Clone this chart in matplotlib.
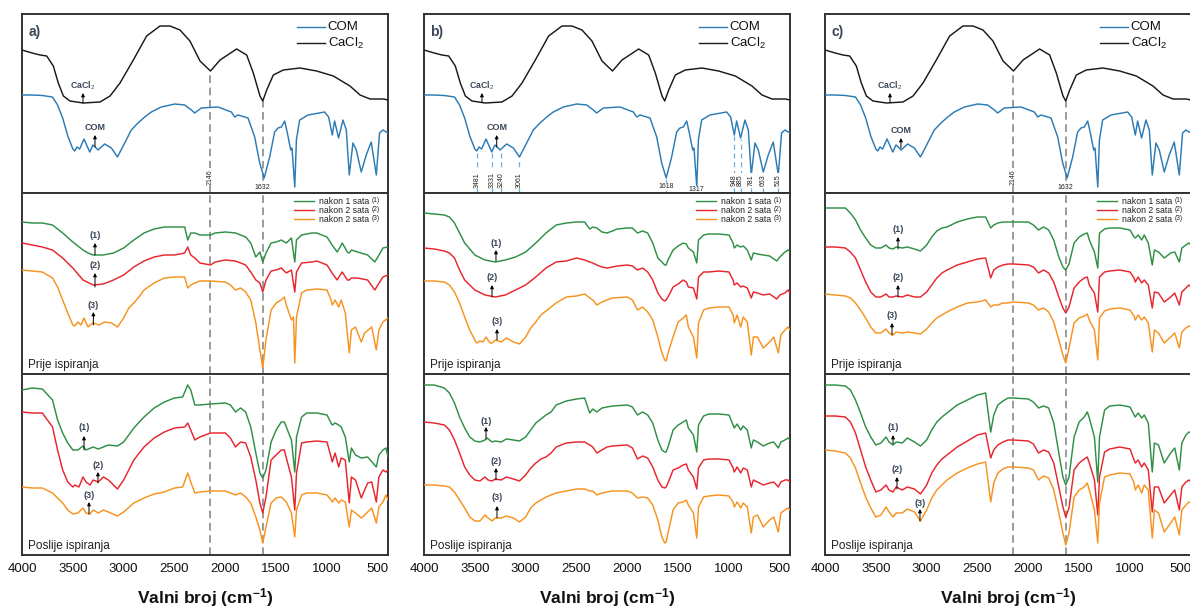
import numpy as np
import matplotlib
matplotlib.use('Agg')
import matplotlib.pyplot as plt

plt.rcParams['font.family'] = ['Liberation Sans', 'DejaVu Sans']
plt.rcParams['mathtext.fontset'] = 'custom'
plt.rcParams['mathtext.rm'] = 'Liberation Sans'
plt.rcParams['mathtext.bf'] = 'Liberation Sans:bold'
plt.rcParams['mathtext.it'] = 'Liberation Sans:italic'

# ---------------- data (wavenumber cm-1, relative transmittance) ----------------
XTICKS = [4000, 3500, 3000, 2500, 2000, 1500, 1000, 500]
PANEL_LETTERS = ['a)', 'b)', 'c)']
LEGEND_TOP = ['COM', 'CaCl$_2$']
LEGEND_MID = ['nakon 1 sata', 'nakon 2 sata', 'nakon 2 sata']
LEGEND_MID_TAG = ['(1)', '(2)', '(3)']
MARK_AC = [2146, 1632]
MARK_B = [3481, 3331, 3240, 3061, 1618, 1317, 948, 885, 781, 663, 515]

com = [(4000,98),(3900,98),(3800,97.5),(3700,96),(3650,88),(3600,75),(3550,57),(3500,44),(3481,42),
       (3459,46),(3433,44),(3390,54),(3334,41),(3302,48),(3280,46),(3252,43),(3187,49),(3121,45),
       (3061,36),(2990,50),(2925,63),(2859,70),(2793,76),(2728,81),(2630,86),(2498,89),(2400,88),
       (2334,83),(2302,80),(2236,85),(2072,86),(1941,81),(1908,76),(1875,78),(1777,75),(1711,56),
       (1662,30),(1618,15),(1564,36),(1515,61),(1482,65),(1449,66),(1416,72),(1390,60),(1357,43),
       (1344,45),(1317,6),(1301,53),(1269,73),(1187,78),(1023,81),(984,76),(948,58),(925,72),
       (886,55),(843,73),(810,63),(781,18),(745,50),(712,43),(663,21),(614,38),(565,51),(515,18),
       (483,60),(450,63),(400,60)]

cacl2 = [(4000,143),(3900,140),(3823,138),(3757,137),(3692,127),(3643,110),(3593,97),(3528,92),
         (3397,90),(3233,91),(3134,97),(3036,110),(2905,133),(2774,157),(2643,167),(2544,167),
         (2446,163),(2348,152),(2249,132),(2146,122),(2052,133),(1889,144),(1790,138),(1725,120),
         (1659,97),(1632,92),(1593,103),(1528,118),(1430,123),(1266,125),(1102,122),(938,117),
         (774,107),(675,98),(577,94),(446,94),(400,93)]

# ---- column a, before rinsing ----
g_mid_a = [(4000,152),(3900,151),(3800,151),(3700,149),(3600,141),(3500,132),(3400,124),(3350,121),
           (3300,119),(3200,119),(3100,121),(3000,126),(2900,134),(2800,141),(2700,145),(2600,147),
           (2500,147),(2400,147),(2370,134),(2340,141),(2300,141),(2250,139),(2146,139),(2100,141),
           (2000,142),(1900,141),(1800,137),(1750,131),(1700,117),(1660,122),(1632,112),(1600,121),
           (1550,131),(1500,132),(1450,134),(1400,131),(1350,136),(1317,112),(1300,134),(1250,139),
           (1150,141),(1100,141),(1000,137),(950,129),(900,122),(870,127),(850,131),(800,122),
           (781,121),(760,124),(700,122),(600,119),(530,112),(500,117),(450,126),(400,127)]
r_mid_a = [(4000,131),(3900,129),(3800,127),(3700,124),(3600,116),(3500,106),(3400,94),(3300,89),
           (3200,90),(3100,94),(3000,99),(2900,107),(2800,113),(2700,117),(2600,119),(2500,119),
           (2400,121),(2370,127),(2340,119),(2300,116),(2250,111),(2146,109),(2100,112),(2000,114),
           (1900,113),(1800,109),(1750,102),(1700,94),(1660,91),(1632,82),(1600,94),(1550,103),
           (1500,104),(1450,106),(1400,101),(1350,104),(1317,82),(1300,102),(1250,111),(1150,112),
           (1100,113),(1000,109),(950,101),(900,94),(870,99),(850,102),(800,94),(781,94),(760,96),
           (700,96),(600,94),(530,84),(500,89),(450,97),(400,99)]
o_mid_a = [(4000,104),(3900,103),(3800,102),(3700,96),(3650,87),(3600,74),(3550,61),(3500,49),
           (3481,48),(3450,52),(3420,49),(3390,56),(3350,47),(3331,49),(3300,51),(3240,49),(3190,52),
           (3120,51),(3061,47),(3000,56),(2950,66),(2900,71),(2850,77),(2800,84),(2700,91),(2600,96),
           (2500,97),(2400,97),(2370,86),(2340,89),(2300,91),(2250,93),(2146,93),(2000,92),(1950,89),
           (1900,84),(1850,86),(1800,82),(1750,74),(1700,51),(1660,24),(1632,6),(1600,34),(1550,64),
           (1500,71),(1450,74),(1420,77),(1400,69),(1350,54),(1330,57),(1317,11),(1300,57),(1250,81),
           (1200,84),(1100,85),(1000,84),(960,74),(948,69),(920,74),(885,67),(860,74),(820,61),
           (781,21),(760,44),(720,47),(663,32),(630,41),(560,47),(515,24),(490,44),(450,52),(400,56)]

# ---- column a, after rinsing ----
g_bot_a = [(4000,165),(3900,167),(3800,166),(3700,155),(3650,135),(3600,122),(3550,112),(3500,105),
           (3450,105),(3400,109),(3370,105),(3300,108),(3250,106),(3200,108),(3150,110),(3061,109),
           (3000,113),(2900,127),(2800,138),(2700,147),(2600,153),(2500,157),(2420,158),(2370,170),
           (2340,165),(2300,150),(2250,150),(2146,151),(2000,152),(1950,150),(1900,143),(1850,147),
           (1800,143),(1750,128),(1700,102),(1660,82),(1632,77),(1600,85),(1550,113),(1500,125),
           (1450,133),(1420,133),(1400,128),(1350,115),(1317,83),(1300,118),(1250,138),(1200,142),
           (1100,142),(1000,140),(960,132),(948,130),(920,132),(885,130),(860,128),(820,118),
           (781,93),(760,107),(720,100),(663,97),(600,98),(515,88),(490,100),(450,105),(420,107),
           (400,98)]
r_bot_a = [(4000,143),(3900,142),(3800,142),(3700,128),(3650,105),(3600,85),(3550,73),(3500,68),
           (3481,70),(3440,68),(3400,78),(3370,73),(3331,70),(3300,75),(3250,73),(3200,78),(3150,75),
           (3061,66),(3000,75),(2950,85),(2900,95),(2800,108),(2700,117),(2600,123),(2500,127),
           (2400,128),(2370,132),(2340,125),(2300,115),(2250,118),(2146,122),(2000,122),(1950,117),
           (1900,108),(1850,113),(1800,112),(1750,98),(1700,75),(1660,52),(1632,42),(1600,58),
           (1550,95),(1500,100),(1450,105),(1420,105),(1400,97),(1350,78),(1317,45),(1300,82),
           (1250,112),(1200,113),(1100,114),(1000,113),(960,98),(948,93),(920,102),(885,88),(860,97),
           (820,95),(781,52),(760,78),(720,75),(663,57),(600,72),(560,73),(515,53),(490,78),(450,85),
           (420,83),(400,85)]
o_bot_a = [(4000,68),(3900,67),(3800,67),(3700,62),(3650,57),(3600,52),(3550,45),(3500,41),(3450,42),
           (3400,47),(3370,42),(3331,41),(3300,45),(3250,42),(3200,45),(3150,43),(3061,39),(3000,43),
           (2900,52),(2800,57),(2700,61),(2600,63),(2500,67),(2420,68),(2370,82),(2340,73),(2300,62),
           (2250,63),(2146,64),(2000,64),(1900,60),(1850,62),(1800,58),(1750,52),(1700,38),(1660,25),
           (1632,12),(1600,28),(1550,52),(1500,57),(1450,58),(1400,53),(1350,42),(1317,18),(1300,45),
           (1250,60),(1200,62),(1100,62),(1000,60),(960,55),(948,53),(920,57),(885,52),(860,55),
           (820,53),(781,28),(760,45),(720,42),(663,37),(600,43),(560,47),(515,32),(490,48),(450,53),
           (420,60),(400,55)]

# ---- column b, before rinsing ----
g_mid_b = [(4000,161),(3900,160),(3800,159),(3750,157),(3700,151),(3650,141),(3600,131),(3500,119),
           (3400,114),(3300,112),(3200,114),(3100,117),(3000,122),(2900,131),(2800,141),(2700,149),
           (2600,151),(2500,152),(2420,152),(2370,145),(2340,147),(2300,146),(2250,142),(2200,141),
           (2146,143),(2100,145),(2000,146),(1950,146),(1900,141),(1850,143),(1800,141),(1750,131),
           (1700,116),(1660,112),(1632,109),(1618,109),(1600,114),(1550,124),(1500,128),(1450,131),
           (1420,130),(1400,126),(1350,122),(1317,111),(1300,134),(1250,139),(1200,140),(1100,140),
           (1000,139),(960,131),(948,126),(920,129),(885,127),(860,128),(820,124),(781,114),(760,121),
           (720,120),(663,119),(600,118),(530,113),(500,117),(450,122),(420,124),(400,122)]
r_mid_b = [(4000,126),(3900,125),(3800,123),(3750,121),(3700,116),(3650,104),(3600,94),(3500,84),
           (3400,79),(3300,77),(3200,79),(3100,84),(3000,89),(2900,97),(2800,106),(2700,112),
           (2600,113),(2500,116),(2420,114),(2370,112),(2340,111),(2300,109),(2250,107),(2200,106),
           (2146,107),(2100,108),(2000,109),(1950,108),(1900,104),(1850,106),(1800,102),(1750,94),
           (1700,81),(1660,75),(1632,73),(1618,74),(1600,77),(1550,87),(1500,90),(1450,94),(1420,92),
           (1400,87),(1350,86),(1317,75),(1300,97),(1250,102),(1200,102),(1100,103),(1000,102),
           (960,94),(948,89),(920,91),(885,87),(860,88),(820,86),(781,76),(760,82),(720,81),(663,79),
           (600,80),(530,75),(500,79),(450,81),(420,84),(400,81)]
o_mid_b = [(4000,93),(3900,93),(3800,92),(3750,89),(3700,82),(3650,71),(3600,57),(3550,44),(3500,34),
           (3481,31),(3450,33),(3420,32),(3390,37),(3350,31),(3331,31),(3300,34),(3240,32),(3190,36),
           (3120,32),(3061,30),(3000,37),(2950,46),(2900,52),(2850,59),(2800,63),(2700,71),(2600,77),
           (2500,78),(2420,80),(2370,76),(2340,74),(2300,69),(2250,72),(2200,74),(2146,76),(2000,77),
           (1950,74),(1900,64),(1850,67),(1800,62),(1750,54),(1700,37),(1660,21),(1632,14),(1618,13),
           (1600,21),(1550,37),(1500,52),(1450,56),(1420,59),(1400,47),(1350,37),(1317,16),(1300,51),
           (1250,64),(1200,66),(1100,67),(1000,67),(960,59),(948,51),(920,59),(885,47),(860,57),
           (820,52),(781,19),(760,37),(720,37),(663,26),(600,32),(560,37),(515,21),(490,39),(450,44),
           (420,47),(400,44)]

# ---- column b, after rinsing ----
g_bot_b = [(4000,170),(3900,170),(3800,167),(3750,162),(3700,152),(3650,138),(3600,127),(3550,118),
           (3500,114),(3450,113),(3400,115),(3380,117),(3331,113),(3300,114),(3240,113),(3190,116),
           (3120,115),(3061,114),(3000,118),(2950,125),(2900,132),(2850,136),(2800,140),(2750,143),
           (2700,150),(2600,154),(2500,156),(2420,157),(2370,142),(2340,146),(2300,143),(2250,147),
           (2200,148),(2146,149),(2000,150),(1950,148),(1900,140),(1850,143),(1800,140),(1750,132),
           (1700,115),(1660,105),(1632,103),(1618,103),(1600,108),(1550,125),(1500,130),(1450,133),
           (1420,135),(1400,127),(1350,120),(1317,103),(1300,130),(1250,139),(1200,141),(1100,141),
           (1000,140),(960,130),(948,127),(920,131),(885,125),(860,129),(820,125),(781,107),(760,115),
           (720,113),(663,109),(600,112),(560,113),(515,107),(490,113),(450,115),(420,117),(400,115)]
r_bot_b = [(4000,133),(3900,132),(3800,130),(3750,125),(3700,115),(3650,102),(3600,88),(3550,80),
           (3500,75),(3450,74),(3400,78),(3370,75),(3331,74),(3300,76),(3240,75),(3190,78),(3120,76),
           (3061,74),(3000,80),(2950,87),(2900,92),(2850,96),(2800,98),(2750,102),(2700,108),
           (2600,112),(2500,113),(2420,113),(2370,110),(2340,108),(2300,102),(2250,105),(2200,108),
           (2146,109),(2000,110),(1950,107),(1900,96),(1850,99),(1800,97),(1750,88),(1700,75),
           (1660,68),(1632,67),(1618,68),(1600,72),(1550,85),(1500,87),(1450,90),(1420,91),(1400,85),
           (1350,78),(1317,66),(1300,87),(1250,95),(1200,96),(1100,96),(1000,95),(960,87),(948,83),
           (920,88),(885,82),(860,87),(820,85),(781,68),(760,75),(720,73),(663,70),(600,72),(560,73),
           (515,68),(490,73),(450,75),(420,75),(400,73)]
o_bot_b = [(4000,70),(3900,70),(3800,69),(3750,68),(3700,63),(3650,55),(3600,47),(3550,38),(3500,34),
           (3450,34),(3400,40),(3370,37),(3331,34),(3300,37),(3240,37),(3190,39),(3120,37),(3061,33),
           (3000,38),(2950,47),(2900,52),(2850,55),(2800,58),(2700,62),(2600,64),(2500,66),(2420,66),
           (2370,64),(2340,64),(2300,60),(2250,62),(2200,63),(2146,64),(2000,64),(1950,62),(1900,57),
           (1850,58),(1800,57),(1750,50),(1700,35),(1660,18),(1632,12),(1618,13),(1600,22),(1550,45),
           (1500,52),(1450,53),(1420,55),(1400,50),(1350,42),(1317,17),(1300,48),(1250,58),(1200,59),
           (1100,60),(1000,59),(960,53),(948,48),(920,53),(885,47),(860,52),(820,48),(781,22),(760,38),
           (720,40),(663,28),(600,35),(560,38),(515,23),(490,42),(450,45),(420,47),(400,45)]

# ---- column c, before rinsing ----
g_mid_c = [(4000,166),(3900,166),(3800,166),(3750,161),(3700,154),(3650,144),(3600,136),(3550,129),
           (3500,126),(3450,126),(3400,129),(3370,126),(3331,125),(3300,127),(3240,126),(3190,127),
           (3120,125),(3061,123),(3000,129),(2950,137),(2900,143),(2850,146),(2800,147),(2700,152),
           (2600,155),(2500,157),(2420,157),(2370,146),(2340,149),(2300,151),(2250,152),(2200,152),
           (2146,152),(2000,152),(1950,149),(1900,144),(1850,147),(1800,144),(1750,134),(1700,117),
           (1660,107),(1632,104),(1600,110),(1550,131),(1500,137),(1450,140),(1420,141),(1400,134),
           (1350,122),(1317,106),(1300,141),(1250,145),(1200,146),(1100,146),(1000,144),(960,137),
           (948,136),(920,139),(885,134),(860,139),(820,131),(781,109),(760,124),(720,122),(663,116),
           (600,121),(560,122),(515,112),(490,126),(450,129),(420,131),(400,129)]
r_mid_c = [(4000,127),(3900,127),(3800,126),(3750,122),(3700,116),(3650,104),(3600,92),(3550,82),
           (3500,77),(3450,77),(3400,80),(3370,77),(3331,77),(3300,78),(3240,77),(3190,79),(3120,77),
           (3061,77),(3000,82),(2950,89),(2900,96),(2850,101),(2800,104),(2700,109),(2600,112),
           (2500,115),(2420,116),(2370,96),(2340,104),(2300,107),(2250,109),(2200,110),(2146,110),
           (2000,109),(1950,107),(1900,101),(1850,104),(1800,101),(1750,92),(1700,77),(1660,66),
           (1632,61),(1600,67),(1550,86),(1500,92),(1450,96),(1420,97),(1400,89),(1350,81),(1317,62),
           (1300,97),(1250,102),(1200,103),(1100,104),(1000,102),(960,96),(948,92),(920,97),(885,91),
           (860,94),(820,89),(781,66),(760,82),(720,81),(663,72),(600,77),(560,81),(515,69),(490,82),
           (450,86),(420,89),(400,87)]
o_mid_c = [(4000,80),(3900,79),(3800,78),(3750,76),(3700,71),(3650,64),(3600,56),(3550,47),(3500,41),
           (3450,41),(3400,45),(3370,41),(3331,39),(3300,42),(3240,41),(3190,42),(3120,41),(3061,40),
           (3000,45),(2950,51),(2900,56),(2850,59),(2800,62),(2700,67),(2600,71),(2500,72),(2420,74),
           (2370,67),(2340,69),(2300,69),(2250,71),(2200,71),(2146,72),(2000,71),(1950,69),(1900,64),
           (1850,66),(1800,62),(1750,52),(1700,34),(1660,19),(1632,11),(1600,26),(1550,51),(1500,56),
           (1450,58),(1420,60),(1400,54),(1350,44),(1317,14),(1300,56),(1250,63),(1200,65),(1100,66),
           (1000,64),(960,58),(948,54),(920,59),(885,54),(860,57),(820,51),(781,22),(760,44),(720,41),
           (663,31),(600,37),(560,41),(515,26),(490,42),(450,46),(420,48),(400,47)]

# ---- column c, after rinsing ----
g_bot_c = [(4000,170),(3900,170),(3800,169),(3750,165),(3700,155),(3650,142),(3600,128),(3550,118),
           (3500,110),(3450,112),(3400,118),(3370,113),(3331,110),(3300,113),(3240,112),(3190,117),
           (3120,113),(3061,109),(3000,115),(2950,125),(2900,133),(2850,138),(2800,142),(2700,150),
           (2600,155),(2500,160),(2420,162),(2370,123),(2340,140),(2300,150),(2250,154),(2200,157),
           (2146,157),(2000,156),(1950,153),(1900,147),(1850,149),(1800,147),(1750,132),(1700,102),
           (1660,78),(1632,70),(1600,78),(1550,118),(1500,133),(1450,138),(1420,143),(1400,137),
           (1350,118),(1317,73),(1300,118),(1250,145),(1200,149),(1100,150),(1000,148),(960,140),
           (948,138),(920,142),(885,137),(860,140),(820,132),(781,83),(760,112),(720,110),(663,92),
           (600,102),(560,107),(515,85),(490,112),(450,120),(420,123),(400,122)]
r_bot_c = [(4000,139),(3900,139),(3800,138),(3750,133),(3700,122),(3650,105),(3600,88),(3550,75),
           (3500,63),(3450,65),(3400,70),(3370,65),(3331,63),(3300,68),(3240,65),(3190,68),(3120,66),
           (3061,61),(3000,70),(2950,82),(2900,90),(2850,96),(2800,100),(2700,108),(2600,114),
           (2500,120),(2420,122),(2370,97),(2340,105),(2300,110),(2250,113),(2200,115),(2146,115),
           (2000,114),(1950,111),(1900,102),(1850,105),(1800,103),(1750,92),(1700,68),(1660,48),
           (1632,38),(1600,47),(1550,85),(1500,92),(1450,96),(1420,98),(1400,92),(1350,75),(1317,40),
           (1300,78),(1250,103),(1200,106),(1100,108),(1000,106),(960,95),(948,92),(920,95),(885,88),
           (860,92),(820,85),(781,43),(760,68),(720,68),(663,52),(600,60),(560,65),(515,45),(490,68),
           (450,73),(420,75),(400,73)]
o_bot_c = [(4000,105),(3900,104),(3800,102),(3750,97),(3700,87),(3650,72),(3600,58),(3550,47),
           (3500,38),(3450,40),(3400,48),(3370,43),(3331,38),(3300,42),(3240,42),(3190,46),(3120,43),
           (3061,34),(3000,45),(2950,57),(2900,65),(2850,70),(2800,75),(2700,82),(2600,87),(2500,91),
           (2420,93),(2370,53),(2340,72),(2300,82),(2250,86),(2200,88),(2146,88),(2000,87),(1950,85),
           (1900,75),(1850,79),(1800,77),(1750,65),(1700,42),(1660,22),(1632,10),(1600,22),(1550,58),
           (1500,65),(1450,68),(1420,72),(1400,65),(1350,45),(1317,12),(1300,52),(1250,78),(1200,80),
           (1100,82),(1000,81),(960,72),(948,65),(920,70),(885,62),(860,70),(820,65),(781,17),(760,45),
           (720,42),(663,23),(600,32),(560,38),(515,20),(490,45),(450,50),(420,53),(400,52)]

MID = [(g_mid_a, r_mid_a, o_mid_a), (g_mid_b, r_mid_b, o_mid_b), (g_mid_c, r_mid_c, o_mid_c)]
BOT = [(g_bot_a, r_bot_a, o_bot_a), (g_bot_b, r_bot_b, o_bot_b), (g_bot_c, r_bot_c, o_bot_c)]

# ---------------- styling / layout ----------------
C_COM, C_CA = '#2b7bb4', '#1a1a1a'
C_SER = ['#2f8f46', '#e8252d', '#f7931e']
C_LAB = '#3b4658'
C_FRAME = '#333333'

W, H = 1190, 608
COL_LEFT = [22, 424, 825]
COL_W = 366
ROWS = [(14, 193), (193, 374), (374, 555)]

# annotation placements (wn, arrow base, arrow tip, text level)
CACL_ANN = [3400, 3430, 3361]
COM_ANN = [(3282, 46, 58, 66), (3285, 46, 58, 66), (3253, 45, 55, 62)]
NUM_MID = [[(3282, 119, 131, 139), (3282, 87, 101, 108), (3298, 49, 62, 68)],
           [(3292, 113, 124, 131), (3331, 77, 89, 96), (3282, 34, 45, 53)],
           [(3282, 125, 137, 144), (3282, 77, 89, 96), (3341, 39, 51, 58)]]
NUM_BOT = [[(3390, 105, 119, 127), (3253, 72, 83, 90), (3341, 41, 53, 59)],
           [(3390, 116, 128, 134), (3292, 75, 87, 94), (3282, 37, 49, 57)],
           [(3331, 111, 120, 128), (3292, 66, 78, 85), (3066, 34, 46, 52)]]

fig = plt.figure(figsize=(W / 100, H / 100), dpi=100)


def make_ax(left, top, bottom):
    ax = fig.add_axes([left / W, 1 - bottom / H, COL_W / W, (bottom - top) / H])
    ax.set_xlim(4000, 400)
    ax.set_ylim(0, bottom - top)
    ax.set_yticks([])
    for s in ax.spines.values():
        s.set_color(C_FRAME)
        s.set_linewidth(1.4)
    return ax


def draw(ax, pairs, color, lw=1.05):
    wn, v = zip(*pairs)
    ax.plot(wn, v, color=color, lw=lw, zorder=3)


def arrow(ax, wn, base, tip, textv, label, fs=6.5, weight='bold'):
    ax.annotate('', xy=(wn, tip), xytext=(wn, base),
                arrowprops=dict(arrowstyle='-|>', color='k', lw=0.7, mutation_scale=5,
                                shrinkA=0, shrinkB=0), zorder=5)
    ax.text(wn, textv, label, ha='center', va='center', fontsize=fs,
            fontweight=weight, color=C_LAB, zorder=5)


com_wn = np.array([p[0] for p in com])[::-1]
com_v = np.array([p[1] for p in com])[::-1]
ca_wn = np.array([p[0] for p in cacl2])[::-1]
ca_v = np.array([p[1] for p in cacl2])[::-1]

for ci, left in enumerate(COL_LEFT):
    axes = [make_ax(left, t, b) for (t, b) in ROWS]
    top, mid, bot = axes
    for ax in (top, mid):
        ax.set_xticks([])
    bot.set_xticks(XTICKS)
    bot.set_xticklabels([str(t) for t in XTICKS])
    bot.tick_params(axis='x', length=0, labelsize=9.5, pad=6, colors='#111111')

    # top panel
    draw(top, cacl2, C_CA)
    draw(top, com, C_COM)
    top.text(0.017, 0.9, PANEL_LETTERS[ci], transform=top.transAxes, fontsize=10,
             fontweight='bold', color=C_LAB, ha='left', va='center')
    for k, (lab, col) in enumerate(zip(LEGEND_TOP, [C_COM, C_CA])):
        yy = [0.927, 0.838][k]
        top.plot([0.751, 0.828], [yy, yy], color=col, lw=1.0, transform=top.transAxes)
        top.text(0.835, yy, lab, transform=top.transAxes, fontsize=9.5, va='center',
                 ha='left', color='#111111')
    arrow(top, CACL_ANN[ci], float(np.interp(CACL_ANN[ci], ca_wn, ca_v)), 100, 107,
          'CaCl$_2$', fs=6.3, weight='bold')
    cw, cb, ct, cv = COM_ANN[ci]
    arrow(top, cw, cb, ct, cv, 'COM', fs=6.5)

    # middle & bottom panels
    for ax, trio in ((mid, MID[ci]), (bot, BOT[ci])):
        for pairs, col in zip(trio, C_SER):
            draw(ax, pairs, col)
    for k, (lab, tag, col) in enumerate(zip(LEGEND_MID, LEGEND_MID_TAG, C_SER)):
        yy = [0.955, 0.905, 0.855][k]
        mid.plot([0.742, 0.797], [yy, yy], color=col, lw=1.0, transform=mid.transAxes)
        mid.text(0.812, yy, lab, transform=mid.transAxes, fontsize=6.3, va='center',
                 ha='left', color='#222222')
        mid.text(0.955, yy + 0.006, tag, transform=mid.transAxes, fontsize=4.8, va='center',
                 ha='left', color='#222222')
    mid.text(0.017, 0.05, 'Prije ispiranja', transform=mid.transAxes, fontsize=8.5,
             color='#222222', ha='left', va='center')
    bot.text(0.017, 0.05, 'Poslije ispiranja', transform=bot.transAxes, fontsize=8.5,
             color='#222222', ha='left', va='center')
    for n, (w, b_, t_, tv) in enumerate(NUM_MID[ci]):
        arrow(mid, w, b_, t_, tv, '(%d)' % (n + 1))
    for n, (w, b_, t_, tv) in enumerate(NUM_BOT[ci]):
        arrow(bot, w, b_, t_, tv, '(%d)' % (n + 1))

    # marker lines
    if ci in (0, 2):
        for j, wn in enumerate(MARK_AC):
            y0 = float(np.interp(wn, ca_wn, ca_v))
            top.plot([wn, wn], [0, y0], color='#808080', lw=1.1, dashes=(5, 3), zorder=1)
            for ax in (mid, bot):
                ax.axvline(wn, color='#808080', lw=1.1, dashes=(5, 3), zorder=1)
            if j == 0:
                top.text(wn, 16, str(wn), rotation=90, ha='center', va='center', fontsize=5,
                         color='#222222', zorder=4,
                         bbox=dict(facecolor='white', edgecolor='none', pad=0.6))
            else:
                top.text(wn, 5, str(wn), ha='center', va='center', fontsize=5,
                         color='#222222', zorder=4,
                         bbox=dict(facecolor='white', edgecolor='none', pad=0.6))
    else:
        for wn in MARK_B:
            y0 = float(np.interp(wn, com_wn, com_v))
            top.plot([wn, wn], [0, y0 - 1], color='#6aaedc', lw=0.9, dashes=(4, 3), zorder=1)
            if wn in (1618, 1317):
                yl = 6 if wn == 1618 else 3
                top.text(wn, yl, str(wn), ha='center', va='center', fontsize=5,
                         color='#222222', zorder=4,
                         bbox=dict(facecolor='white', edgecolor='none', pad=0.5))
            else:
                top.text(wn, 13, str(wn), rotation=90, ha='center', va='center', fontsize=5,
                         color='#222222', zorder=4,
                         bbox=dict(facecolor='white', edgecolor='none', pad=0.5))

    fig.text((left + COL_W / 2) / W, 1 - 598 / H, r'Valni broj (cm$^{\mathbf{-1}}$)',
             ha='center', va='center', fontsize=12.5, fontweight='bold', color='#111111')

fig.savefig('out.png', dpi=100, facecolor='white')
